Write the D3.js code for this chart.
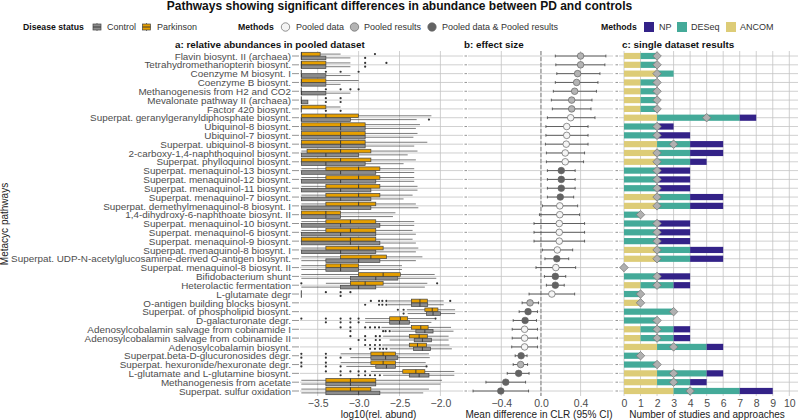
<!DOCTYPE html>
<html>
<head>
<meta charset="utf-8">
<script src="https://cdn.jsdelivr.net/npm/d3@7"></script>
<style>
body { margin:0; background:#fff; }
text { font-family:"Liberation Sans",Arial,sans-serif; }
</style>
</head>
<body>
<svg id="chart" width="798" height="420"></svg>
<script>
const pathways = ["Flavin biosynt. II (archaea)","Tetrahydromethanopterin biosynt.","Coenzyme M biosynt. I","Coenzyme B biosynt.","Methanogenesis from H2 and CO2","Mevalonate pathway II (archaea)","Factor 420 biosynt.","Superpat. geranylgeranyldiphosphate biosynt.","Ubiquinol-8 biosynt.","Ubiquinol-7 biosynt.","Superpat. ubiquinol-8 biosynt.","2-carboxy-1,4-naphthoquinol biosynt.","Superpat. phylloquinol biosynt.","Superpat. menaquinol-13 biosynt.","Superpat. menaquinol-12 biosynt.","Superpat. menaquinol-11 biosynt.","Superpat. menaquinol-7 biosynt.","Superpat. demethylmenaquinol-8 biosynt. I","1,4-dihydroxy-6-naphthoate biosynt. II","Superpat. menaquinol-10 biosynt.","Superpat. menaquinol-6 biosynt.","Superpat. menaquinol-9 biosynt.","Superpat. menaquinol-8 biosynt. I","Superpat. UDP-N-acetylglucosamine-derived O-antigen biosynt.","Superpat. menaquinol-8 biosynt. II","Bifidobacterium shunt","Heterolactic fermentation","L-glutamate degr","O-antigen building blocks biosynt.","Superpat. of phospholipid biosynt.","D-galacturonate degr.","Adenosylcobalamin salvage from cobinamide I","Adenosylcobalamin salvage from cobinamide II","Adenosylcobalamin biosynt.","Superpat.beta-D-glucuronosides degr.","Superpat. hexuronide/hexuronate degr.","L-glutamate and L-glutamine biosynt.","Methanogenesis from acetate","Superpat. sulfur oxidation"]

// boxes: low whisker, q1, median, q3, high whisker
const parkinsonBox = [[-3.7,-3.7,-3.7,-3.47,-3.22],[-3.7,-3.7,-3.7,-3.4,-3.1],[-3.7,-3.7,-3.7,-3.7,-3.7],[-3.7,-3.7,-3.7,-3.4,-3.0],[-3.7,-3.7,-3.7,-3.7,-3.7],[-3.7,-3.7,-3.7,-3.7,-3.7],[-3.7,-3.7,-3.7,-3.4,-3.22],[-3.7,-3.7,-3.4,-3.0,-2.11],[-3.7,-3.7,-3.22,-2.92,-2.25],[-3.7,-3.7,-3.22,-2.92,-2.28],[-3.7,-3.7,-3.22,-2.92,-2.16],[-3.7,-3.63,-3.22,-2.85,-2.28],[-3.7,-3.7,-3.22,-2.85,-2.3],[-3.7,-3.4,-3.0,-2.74,-2.32],[-3.7,-3.4,-3.0,-2.74,-2.32],[-3.7,-3.4,-3.0,-2.74,-2.28],[-3.7,-3.4,-3.0,-2.74,-2.34],[-3.7,-3.4,-3.0,-2.79,-2.3],[-3.7,-3.7,-3.4,-3.22,-2.55],[-3.7,-3.4,-3.1,-2.79,-2.32],[-3.7,-3.4,-3.1,-2.79,-2.34],[-3.7,-3.7,-3.1,-2.79,-2.34],[-3.7,-3.4,-3.0,-2.7,-2.27],[-3.7,-3.22,-2.85,-2.66,-2.22],[-3.7,-3.4,-3.22,-3.0,-2.47],[-3.7,-3.0,-2.7,-2.49,-2.07],[-3.4,-3.1,-2.92,-2.7,-2.16],[-3.7,-3.7,-3.7,-3.7,-3.7],[-2.64,-2.355,-2.25,-2.16,-1.96],[-2.41,-2.19,-2.1,-2.03,-1.82],[-2.92,-2.62,-2.49,-2.4,-2.07],[-2.72,-2.355,-2.24,-2.15,-1.87],[-2.7,-2.38,-2.26,-2.16,-1.9],[-2.71,-2.38,-2.28,-2.17,-1.89],[-3.22,-2.85,-2.7,-2.55,-2.14],[-3.22,-2.85,-2.7,-2.55,-2.18],[-2.85,-2.46,-2.3,-2.19,-1.83],[-3.7,-3.4,-3.1,-2.79,-1.98],[-3.7,-3.4,-3.1,-2.85,-2.14]]
const controlBox = [[-3.7,-3.7,-3.7,-3.4,-3.1],[-3.7,-3.7,-3.7,-3.4,-3.1],[-3.7,-3.7,-3.7,-3.4,-3.1],[-3.7,-3.7,-3.7,-3.4,-3.22],[-3.7,-3.7,-3.7,-3.4,-3.1],[-3.7,-3.7,-3.7,-3.62,-3.62],[-3.7,-3.7,-3.7,-3.7,-3.7],[-3.7,-3.7,-3.7,-3.1,-2.29],[-3.7,-3.7,-3.22,-2.92,-2.3],[-3.7,-3.7,-3.22,-2.92,-2.33],[-3.7,-3.7,-3.22,-2.92,-2.32],[-3.7,-3.7,-3.4,-3.0,-2.4],[-3.7,-3.7,-3.4,-2.92,-2.45],[-3.7,-3.7,-3.22,-2.79,-2.32],[-3.7,-3.7,-3.22,-2.79,-2.32],[-3.7,-3.7,-3.22,-2.85,-2.28],[-3.7,-3.7,-3.22,-2.85,-2.45],[-3.7,-3.7,-3.22,-2.85,-2.27],[-3.7,-3.7,-3.4,-3.22,-2.58],[-3.7,-3.7,-3.22,-2.74,-2.32],[-3.7,-3.7,-3.22,-2.79,-2.3],[-3.7,-3.7,-3.1,-2.74,-2.3],[-3.7,-3.7,-3.22,-2.79,-2.3],[-3.7,-3.4,-3.0,-2.74,-2.3],[-3.7,-3.4,-3.22,-3.0,-2.47],[-3.7,-3.1,-2.79,-2.52,-2.05],[-3.7,-3.22,-3.0,-2.79,-2.19],[-3.7,-3.7,-3.7,-3.7,-3.7],[-2.64,-2.355,-2.25,-2.155,-1.96],[-2.4,-2.17,-2.09,-2.0,-1.82],[-2.92,-2.62,-2.5,-2.38,-2.11],[-2.6,-2.3,-2.19,-2.09,-1.84],[-2.62,-2.32,-2.22,-2.11,-1.9],[-2.62,-2.33,-2.22,-2.12,-1.86],[-3.1,-2.85,-2.67,-2.52,-2.13],[-3.15,-2.79,-2.66,-2.55,-2.18],[-2.7,-2.38,-2.26,-2.14,-1.83],[-3.7,-3.4,-3.1,-2.79,-2.0],[-3.7,-3.4,-3.0,-2.74,-2.21]]
const parkinsonOut = [[-2.8],[-2.92,-2.66],[-3.4,-3.22,-3.0],[],[-3.4,-3.22,-3.1,-3.0],[-3.4,-3.22],[],[],[],[],[],[],[],[],[],[],[],[],[],[],[],[],[],[],[],[],[-3.7,-2.04],[-3.4,-3.22,-3.1],[-2.85,-2.75,-2.71,-2.66,-1.88],[-2.52,-2.45],[-3.7,-3.4,-3.22,-3.1,-3.0,-2.06],[-3.22,-3.1,-2.92,-2.86,-2.8,-2.75],[-3.1,-2.92,-2.79,-2.74],[-2.92,-2.86,-2.8,-2.74],[-3.7,-3.4],[-3.7,-3.4],[-3.4,-3.22,-3.1,-3.0,-2.92],[],[]]
const controlOut = [[-2.92],[-2.92],[],[],[],[-3.4,-3.22],[-3.4,-3.22],[-2.14],[],[],[],[],[],[],[],[],[],[],[],[],[],[],[],[],[],[],[],[-3.22],[-2.92,-2.75,-2.71,-2.66],[-2.45],[-3.4,-3.22,-3.1,-3.0],[-3.1,-2.7,-2.67,-2.62],[-3.0,-2.92,-2.79,-2.74],[-3.1,-2.86,-2.8,-2.74,-2.7,-2.66],[-3.7,-3.4,-3.22],[-3.7,-3.4,-3.22,-2.17],[-3.22,-3.0,-2.92,-2.86,-2.8,-2.74],[],[]]

// effect size
const effectMean = [.40,.40,.37,.36,.34,.31,.31,.30,.26,.26,.255,.245,.245,.205,.205,.205,.195,.19,.19,.185,.185,.185,.165,.16,.15,.145,.145,.11,-.11,-.13,-.16,-.165,-.165,-.165,-.2,-.205,-.225,-.355,-.405]
const effectLow = [.145,.15,.16,.145,.125,.105,.115,.065,.05,.05,.045,.055,.055,.065,.065,.065,.065,.015,-.015,-.07,-.07,-.07,.015,.04,-.05,.035,.055,-.12,-.19,-.22,-.28,-.29,-.29,-.295,-.26,-.28,-.34,-.555,-.685]
const effectHigh = [.655,.645,.595,.575,.56,.515,.505,.545,.475,.475,.475,.44,.43,.345,.345,.345,.33,.37,.39,.44,.44,.44,.32,.28,.35,.25,.235,.34,-.025,-.035,-.045,-.035,-.035,-.035,-.14,-.135,-.12,-.155,-.125]
const effectMethod = ["r","r","r","r","r","r","r","d","d","d","d","d","d","b","b","b","b","d","d","d","d","d","d","b","d","b","b","d","r","b","b","d","d","d","b","r","b","b","b"]
const methodNames = {d:"Pooled data",r:"Pooled results",b:"Pooled data & Pooled results"}
const methodColors = {d:"#f4f4f4",r:"#b4b4b4",b:"#636363"}

// single dataset counts
const ancom = [1,1,2,1,1,1,1,2,0,0,2,2,2,0,0,0,2,2,0,0,0,0,2,2,0,0,1,0,1,0,0,1,1,2,0,0,2,2,3]
const deseq = [1,1,1,1,1,1,1,5,2,2,2,2,2,2,2,2,2,2,1,2,2,2,2,2,0,2,2,1,0,3,2,2,2,3,1,2,3,2,4]
const np = [0,0,0,0,0,0,0,1,1,2,2,2,1,2,2,2,2,2,0,2,2,2,2,2,0,2,1,0,0,0,0,1,1,1,0,0,1,1,2]
const median = [2,2,2,2,2,2,2,5,2,2,3,2,2,2,2,2,2,2,1,2,2,2,2,2,0,2,2,1,1,3,2,2,2,3,1,2,3,3,4]

const abundTicks = [-3.5,-3,-2.5,-2]
const effectTicks = [-0.4,0,0.4]
const countTicks = d3.range(0,11)

const svg = d3.select("#chart")
const textCol = "#4d4d4d"
const gridCol = "#c4c4c4"

const y = d3.scalePoint().domain(pathways).range([56,391])
const xa = d3.scaleLinear().domain([-3.5,-2]).range([317.7,440.4])
const xb = d3.scaleLinear().domain([-0.4,0.4]).range([501.3,580.6])
const xc = d3.scaleLinear().domain([0,10]).range([624,789.3])

let panelTop = 51, panelBottom = 396

// gridlines + axes for each panel
let panel = (x,ticks,left,right,fmt,tickLen) => {
    let g = svg.append("g")
    g.selectAll(".v").data(ticks).join("line").attr("x1",d=>x(d)).attr("x2",d=>x(d))
        .attr("y1",panelTop).attr("y2",panelBottom).attr("stroke",gridCol).attr("stroke-width",0.8)
    g.selectAll(".h").data(pathways).join("line").attr("x1",left).attr("x2",right)
        .attr("y1",d=>y(d)).attr("y2",d=>y(d)).attr("stroke",gridCol).attr("stroke-width",0.8)
    let ax = g.append("g").attr("transform",`translate(0,${panelBottom})`)
        .call(d3.axisBottom(x).tickValues(ticks).tickSize(0).tickPadding(4).tickFormat(fmt))
    ax.select(".domain").remove()
    ax.selectAll("text").attr("fill",textCol).attr("font-size",10.5).style("font-family",'"Liberation Sans"')
    // y ticks
    g.append("g").selectAll("line").data(pathways).join("line").attr("x1",left-tickLen-1).attr("x2",left-1)
        .attr("y1",d=>y(d)).attr("y2",d=>y(d)).attr("stroke","#666").attr("stroke-width",0.7)
}
panel(xa,abundTicks,300,463,d3.format(".1f"),7)
panel(xb,effectTicks,468,613,d3.format(".1f"),2.5)
panel(xc,countTicks,619,798,d3.format("d"),2.5)

// pathway labels
let yAxis = svg.append("g").attr("transform","translate(295,0)")
    .call(d3.axisLeft(y).tickSize(0).tickPadding(4))
yAxis.select(".domain").remove()
yAxis.selectAll("text").attr("fill",textCol).attr("font-size",9.9).style("font-family",'"Liberation Sans"')

// a: boxplots
let drawBoxes = (boxes,outs,color,off) => {
    let g = svg.append("g").attr("transform",`translate(0,${off})`)
    let h = 3.6
    pathways.forEach((p,i) => {
        let [lo,q1,med,q3,hi] = boxes[i]
        let c = y(p)
        let row = g.append("g")
        row.append("line").attr("x1",xa(lo)).attr("x2",xa(hi)).attr("y1",c).attr("y2",c)
            .attr("stroke","#444").attr("stroke-width",0.7)
        row.append("rect").attr("x",xa(q1)).attr("width",xa(q3)-xa(q1)).attr("y",c-h/2).attr("height",h)
            .attr("fill",color).attr("stroke","#444").attr("stroke-width",0.7)
        row.append("line").attr("x1",xa(med)).attr("x2",xa(med)).attr("y1",c-h/2).attr("y2",c+h/2)
            .attr("stroke","#333").attr("stroke-width",0.9)
        row.selectAll("circle").data(outs[i]).join("circle").attr("cx",d=>xa(d)).attr("cy",c).attr("r",1.1)
            .attr("fill","#333")
    })
}
drawBoxes(controlBox,controlOut,"#8c8c8c",1.9)
drawBoxes(parkinsonBox,parkinsonOut,"#e69f00",-1.9)

// b: effect size
svg.append("line").attr("x1",xb(0)).attr("x2",xb(0)).attr("y1",panelTop).attr("y2",panelBottom)
    .attr("stroke","#999").attr("stroke-width",1.3).attr("stroke-dasharray","4 2")
let eff = svg.append("g").selectAll("g").data(pathways).join("g")
eff.append("line").attr("x1",(d,i)=>xb(effectLow[i])).attr("x2",(d,i)=>xb(effectHigh[i]))
    .attr("y1",d=>y(d)).attr("y2",d=>y(d)).attr("stroke","#444").attr("stroke-width",0.8)
;[effectLow,effectHigh].forEach(arr => {
    eff.append("line").attr("x1",(d,i)=>xb(arr[i])).attr("x2",(d,i)=>xb(arr[i]))
        .attr("y1",d=>y(d)-1.4).attr("y2",d=>y(d)+1.4).attr("stroke","#444").attr("stroke-width",0.8)
})
eff.append("circle").attr("cx",(d,i)=>xb(effectMean[i])).attr("cy",d=>y(d)).attr("r",3.3)
    .attr("fill",(d,i)=>methodColors[effectMethod[i]]).attr("stroke","#666").attr("stroke-width",0.7)

// c: stacked counts
let stack = d3.stack().keys(["ancom","deseq","np"])(pathways.map((p,i)=>({p,ancom:ancom[i],deseq:deseq[i],np:np[i]})))
let stackColors = {ancom:"#ddcc77",deseq:"#44aa99",np:"#332288"}
svg.append("g").selectAll("g").data(stack).join("g").attr("fill",d=>stackColors[d.key])
    .selectAll("rect").data(d=>d).join("rect")
    .attr("x",d=>xc(d[0])).attr("width",d=>xc(d[1])-xc(d[0]))
    .attr("y",d=>y(d.data.p)-3.1).attr("height",6.2)
svg.append("g").selectAll("path").data(pathways).join("path")
    .attr("d",d3.symbol(d3.symbolSquare,36))
    .attr("transform",(d,i)=>`translate(${xc(median[i])},${y(d)}) rotate(45)`)
    .attr("fill","#b0b0b0").attr("stroke","#777").attr("stroke-width",0.7)

// titles
let label = (txt,x,yy,size,bold,anchor) => svg.append("text").text(txt).attr("x",x).attr("y",yy)
    .attr("font-size",size).attr("font-weight",bold?"bold":"normal").attr("text-anchor",anchor||"start").attr("fill",bold?"#111":"#333")
label("Pathways showing significant differences in abundance between PD and controls",399.5,10,12,true,"middle")
label("a: relative abundances in pooled dataset",175,47.5,9.85,true)
label("b: effect size",464,47.5,9.85,true)
label("c: single dataset results",622,47.5,9.85,true)
label("log10(rel. abund)",378.5,417.5,10,false,"middle").attr("fill","#222")
label("Mean difference in CLR (95% CI)",539,417.5,10,false,"middle").attr("fill","#222")
label("Number of studies and approaches",707,417.5,10,false,"middle").attr("fill","#222")
svg.append("text").text("Metacyc pathways").attr("transform","translate(8,224) rotate(-90)")
    .attr("text-anchor","middle").attr("font-size",10).attr("fill","#222")

// legends
let ly = 27
label("Disease status",23,ly+3,8.7,true)
;[["Control","#8c8c8c",97,107],["Parkinson","#e69f00",146.5,157]].forEach(([name,col,cx,tx]) => {
    svg.append("line").attr("x1",cx).attr("x2",cx).attr("y1",ly-4).attr("y2",ly+4).attr("stroke","#444").attr("stroke-width",0.7)
    svg.append("rect").attr("x",cx-4).attr("width",8).attr("y",ly-3).attr("height",6).attr("fill",col).attr("stroke","#444").attr("stroke-width",0.7)
    svg.append("line").attr("x1",cx-4).attr("x2",cx+4).attr("y1",ly).attr("y2",ly).attr("stroke","#333").attr("stroke-width",0.9)
    label(name,tx,ly+3,9,false)
})
label("Methods",238,ly+3,8.7,true)
;[["d",285.5,296],["r",354.5,364],["b",432,442]].forEach(([m,cx,tx]) => {
    svg.append("circle").attr("cx",cx).attr("cy",ly).attr("r",4.2).attr("fill",methodColors[m]).attr("stroke","#666").attr("stroke-width",0.7)
    label(methodNames[m],tx,ly+3,9,false)
})
label("Methods",601,ly+3,8.7,true)
;[["NP","np",644,659],["DESeq","deseq",677,691],["ANCOM","ancom",726,740]].forEach(([name,k,sx,tx]) => {
    svg.append("rect").attr("x",sx).attr("y",ly-5).attr("width",10).attr("height",10).attr("fill",stackColors[k])
    label(name,tx,ly+3,9,false)
})
</script>
</body>
</html>
